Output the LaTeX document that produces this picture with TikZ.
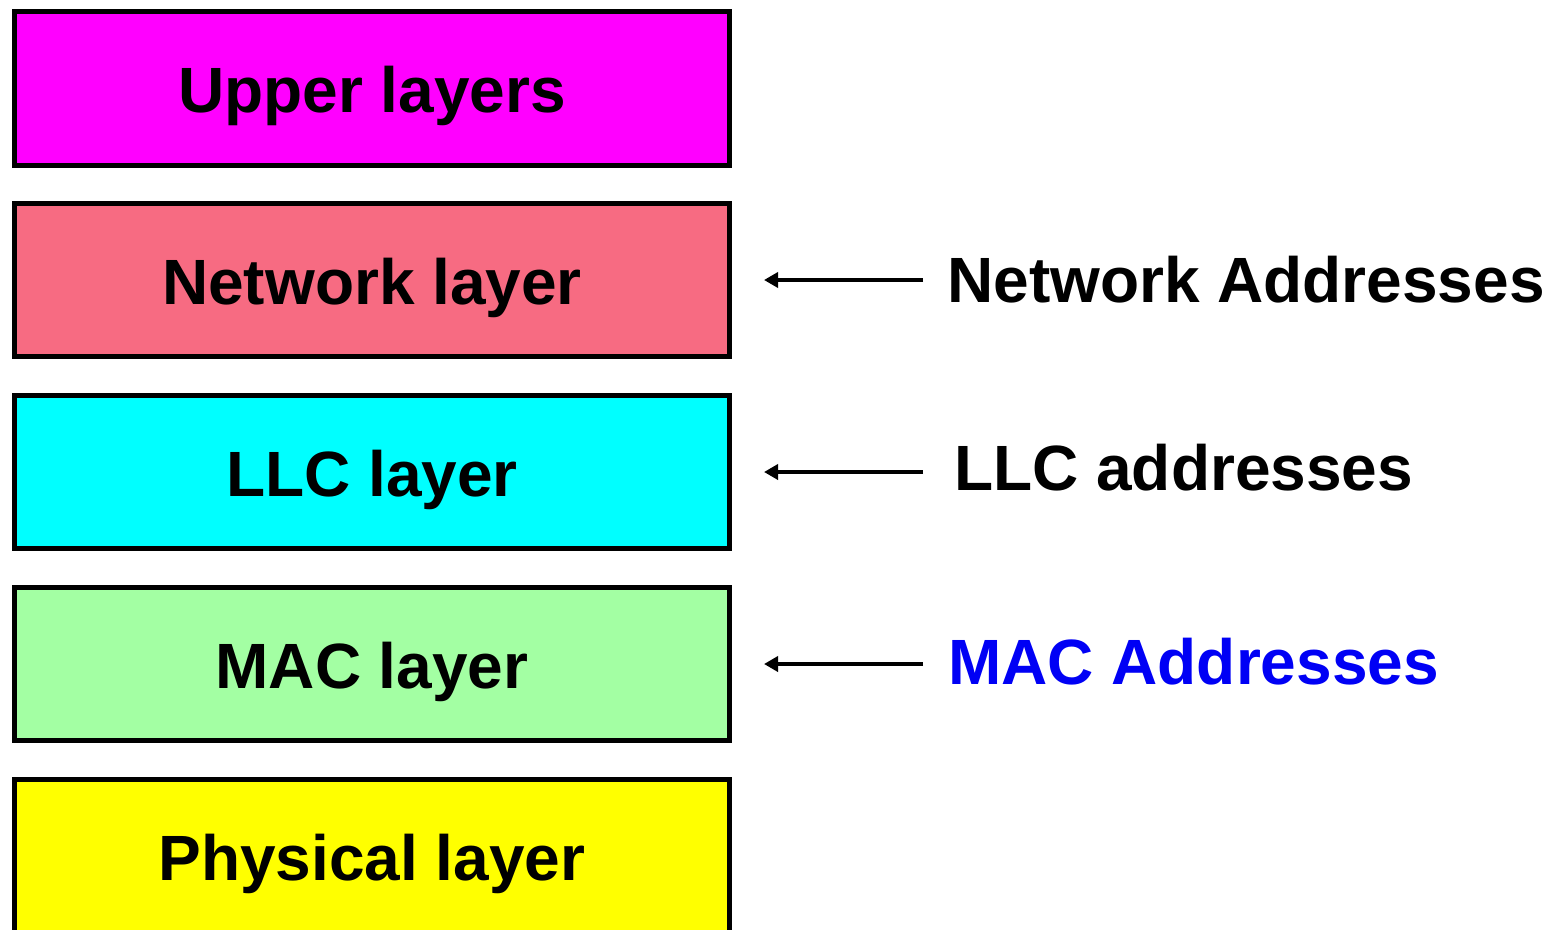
\documentclass[tikz,border=0pt]{standalone}
\usepackage{fontspec}
\setmainfont{Liberation Sans}
\usetikzlibrary{arrows.meta}
\definecolor{upperc}{HTML}{FF00FF}
\definecolor{netc}{HTML}{F76B82}
\definecolor{llcc}{HTML}{00FFFF}
\definecolor{macc}{HTML}{A3FFA3}
\definecolor{physc}{HTML}{FFFF00}
\definecolor{addrblue}{HTML}{0000F5}
\tikzset{
  layerbox/.style={draw=black, line width=5pt, minimum width=714.5pt, minimum height=153.5pt, inner sep=0pt, outer sep=0pt},
  layertext/.style={anchor=base, font=\bfseries\fontsize{64}{70}\selectfont, inner sep=0pt},
  addrtext/.style={anchor=base west, font=\bfseries\fontsize{64}{70}\selectfont, inner sep=0pt},
  pointer/.style={line width=4pt, -{Stealth[length=14pt, width=15pt, inset=0pt]}},
}
\begin{document}
\begin{tikzpicture}[x=1pt, y=-1pt]
\useasboundingbox (0,0) rectangle (1558,929);
\begin{scope}
\clip (0,0) rectangle (1558,929);
% layer stack
\node[layerbox, fill=upperc] (upper) at (371.75,88.25) {};
\node[layerbox, fill=netc]   (net)   at (371.75,279.75) {};
\node[layerbox, fill=llcc]   (llc)   at (371.75,471.75) {};
\node[layerbox, fill=macc]   (mac)   at (371.75,663.75) {};
\node[layerbox, fill=physc]  (phys)  at (371.75,855.75) {};
\end{scope}
% layer names
\node[layertext] (tupper) at (372,112) {Upper layers};
\node[layertext] (tnet)   at (372,304) {Network layer};
\node[layertext] (tllc)   at (372,496) {LLC layer};
\node[layertext] (tmac)   at (372,688) {MAC layer};
\node[layertext] (tphys)  at (372,880) {Physical layer};
% address labels
\node[addrtext] (anet) at (947,302) {Network Addresses};
\node[addrtext] (allc) at (954,490) {LLC addresses};
\node[addrtext, text=addrblue] (amac) at (948,684) {MAC Addresses};
% pointers into the stack
\coordinate (pnet) at (923,280);
\coordinate (pllc) at (923,472);
\coordinate (pmac) at (923,664);
\coordinate (hnet) at (764,280);
\coordinate (hllc) at (764,472);
\coordinate (hmac) at (764,664);
\draw[pointer] (pnet) -- (hnet);
\draw[pointer] (pllc) -- (hllc);
\draw[pointer] (pmac) -- (hmac);
\end{tikzpicture}
\end{document}
